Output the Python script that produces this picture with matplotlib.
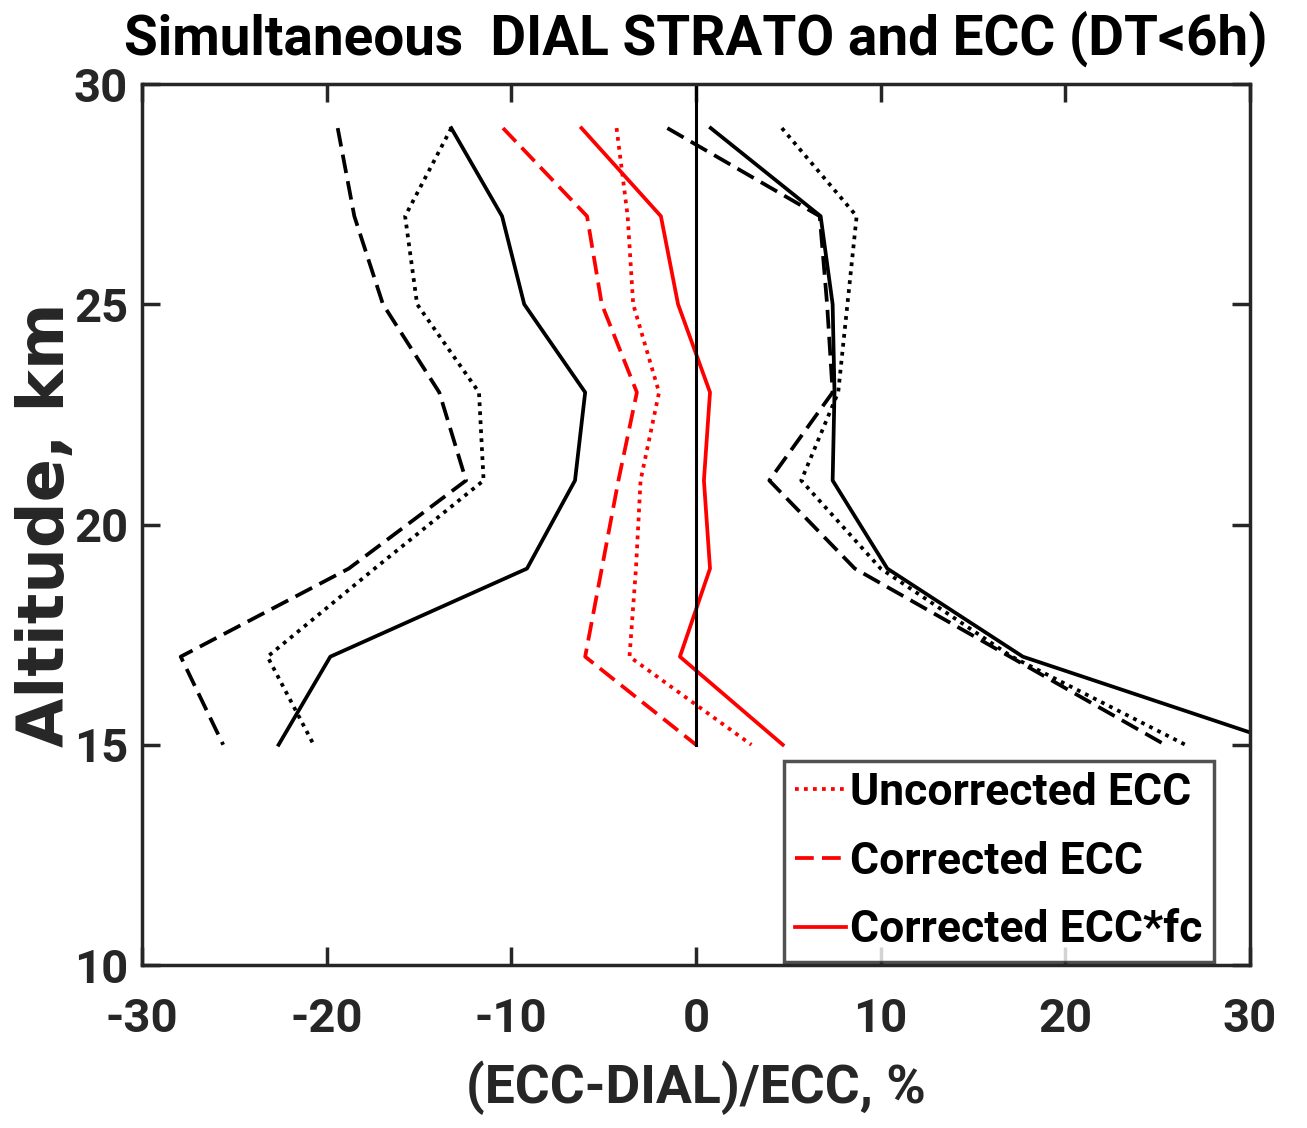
import matplotlib
matplotlib.use("Agg")
import matplotlib.pyplot as plt

# Altitude levels (km)
altitude = [29, 27, 25, 23, 21, 19, 17, 15]

# Mean relative differences (ECC-DIAL)/ECC, %
uncorr_mean = [-4.3, -3.7, -3.4, -2.0, -3.0, -3.25, -3.6, 3.0]
corr_mean = [-10.45, -5.9, -5.1, -3.2, -4.2, -5.1, -6.0, 0.0]
corrfc_mean = [-6.2, -1.9, -0.97, 0.76, 0.43, 0.76, -0.87, 4.7]

# Spread envelopes (lower / upper)
uncorr_lo = [-13.25, -15.75, -15.1, -11.75, -11.5, -17.4, -23.2, -20.7]
uncorr_hi = [4.65, 8.7, 8.2, 7.7, 5.7, 10.0, 17.1, 26.5]
corr_lo = [-19.4, -18.5, -16.95, -13.9, -12.45, -18.8, -27.9, -25.6]
corr_hi = [-1.55, 6.7, 7.1, 7.4, 3.97, 8.6, 17.0, 25.4]
corrfc_lo = [-13.25, -10.5, -9.3, -6.0, -6.55, -9.15, -19.8, -22.6]
corrfc_hi = [0.8, 6.75, 7.4, 7.5, 7.4, 10.36, 17.7, 32.0]

legend_labels = ["Uncorrected ECC", "Corrected ECC", "Corrected ECC*fc"]
x_ticks = [-30, -20, -10, 0, 10, 20, 30]
y_ticks = [10, 15, 20, 25, 30]

FONT = dict(family="Roboto", weight="bold")
SPINE = "#262626"
LW = 2.7
DOT = (0, (1, 1.4))
DASH = (0, (5, 2.2))

fig = plt.figure(figsize=(13.07, 11.28), dpi=100)
ax = fig.add_axes([0.1086, 0.1445, 0.8478, 0.781])

# envelopes (black)
ax.plot(uncorr_lo, altitude, color="black", lw=LW, linestyle=DOT)
ax.plot(uncorr_hi, altitude, color="black", lw=LW, linestyle=DOT)
ax.plot(corr_lo, altitude, color="black", lw=LW, linestyle=DASH)
ax.plot(corr_hi, altitude, color="black", lw=LW, linestyle=DASH)
ax.plot(corrfc_lo, altitude, color="black", lw=LW, linestyle="-")
ax.plot(corrfc_hi, altitude, color="black", lw=LW, linestyle="-")

# means (red)
l1, = ax.plot(uncorr_mean, altitude, color="red", lw=LW, linestyle=DOT)
l2, = ax.plot(corr_mean, altitude, color="red", lw=LW, linestyle=DASH)
l3, = ax.plot(corrfc_mean, altitude, color="red", lw=LW, linestyle="-")

# zero reference
ax.plot([0, 0], [15, 30], color="black", lw=2.2)

ax.set_xlim(-30, 30)
ax.set_ylim(10, 30)
ax.set_xticks(x_ticks)
ax.set_yticks(y_ticks)
ax.set_xticklabels([str(v) for v in x_ticks], fontdict=dict(size=34, **FONT))
ax.set_yticklabels([str(v) for v in y_ticks], fontdict=dict(size=34, **FONT))
ax.tick_params(axis="both", direction="in", length=13, width=2.5, color=SPINE,
               labelcolor=SPINE, top=True, right=True)
ax.tick_params(axis="x", pad=23)
ax.tick_params(axis="y", pad=10)
for s in ax.spines.values():
    s.set_color(SPINE)
    s.set_linewidth(2.5)

ax.set_xlabel("(ECC-DIAL)/ECC, %", fontsize=38.5, labelpad=14, color=SPINE, **FONT)
ax.set_ylabel("Altitude, km", fontsize=46, family="DejaVu Sans", weight="bold",
              color=SPINE, labelpad=-2)
ax.set_title("Simultaneous  DIAL STRATO and ECC (DT<6h)", fontsize=39.5, pad=21,
             color="black", **FONT)

leg = ax.legend([l1, l2, l3], legend_labels, loc="lower right",
                bbox_to_anchor=(0.9675, 0.003), frameon=True, fancybox=False,
                handlelength=1.13, handletextpad=0.11, borderpad=0.25,
                labelspacing=0.6, borderaxespad=0.0,
                prop=dict(size=32, **FONT))
leg.get_frame().set_edgecolor(SPINE)
leg.get_frame().set_linewidth(2.5)
for t in leg.get_texts():
    t.set_color("black")

fig.savefig("out.png", dpi=100)
